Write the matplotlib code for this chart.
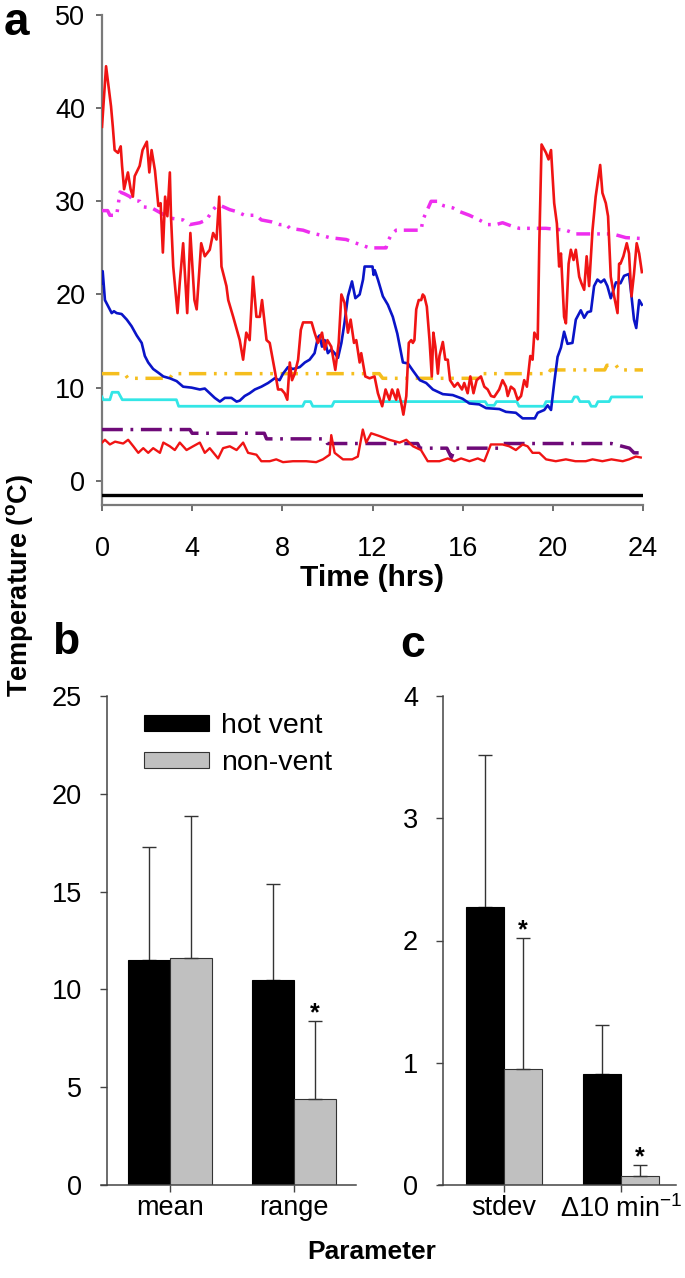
import matplotlib
matplotlib.use("Agg")
import matplotlib.pyplot as plt
from matplotlib.lines import Line2D
import numpy as np

plt.rcParams['font.family'] = ['Liberation Sans', 'DejaVu Sans']
plt.rcParams['mathtext.fontset'] = 'custom'
plt.rcParams['mathtext.rm'] = 'Liberation Sans'
plt.rcParams['mathtext.it'] = 'Liberation Sans:italic'
plt.rcParams['mathtext.bf'] = 'Liberation Sans:bold'

# ---------------- Panel a data (time in hrs, temperature in C) ----------------
red_hot_t = [0, 0.18, 0.4, 0.48, 0.56, 0.71, 0.83, 0.89, 0.98, 1.15, 1.27, 1.37, 1.45, 1.67, 1.8, 1.99,
             2.1, 2.2, 2.35, 2.5, 2.6, 2.7, 2.8, 2.9, 3.01, 3.06, 3.16, 3.35, 3.45, 3.6, 3.78, 3.92,
             4.1, 4.2, 4.4, 4.56, 4.78, 4.93, 5.08, 5.2, 5.3, 5.52, 5.6, 5.82, 6.11, 6.26, 6.4, 6.55,
             6.7, 6.85, 7.0, 7.1, 7.3, 7.44, 7.66, 7.81, 7.96, 8.1, 8.22, 8.33, 8.43, 8.55, 8.7, 8.82,
             8.92, 9.3, 9.43, 9.58, 9.76, 9.88, 10.0, 10.17, 10.35, 10.5, 10.62, 10.76, 10.91, 11.03,
             11.18, 11.28, 11.43, 11.5, 11.68, 11.87, 12.09, 12.24, 12.43, 12.58, 12.75, 12.87, 13.05,
             13.12, 13.27, 13.37, 13.5, 13.61, 13.72, 13.79, 13.86, 13.94, 14.05, 14.16, 14.23, 14.3,
             14.41, 14.53, 14.63, 14.7, 14.79, 14.9, 14.97, 15.12, 15.23, 15.34, 15.44, 15.63, 15.78,
             15.97, 16.07, 16.22, 16.34, 16.48, 16.62, 16.81, 16.96, 17.11, 17.26, 17.4, 17.62, 17.77,
             17.92, 18.0, 18.14, 18.29, 18.44, 18.59, 18.73, 18.85, 19.0, 19.1, 19.18, 19.33, 19.4,
             19.5, 19.7, 19.81, 19.92, 20.06, 20.18, 20.28, 20.36, 20.5, 20.58, 20.7, 20.8, 20.92,
             21.02, 21.17, 21.27, 21.39, 21.5, 21.61, 21.76, 21.9, 22.1, 22.2, 22.35, 22.45, 22.57,
             22.72, 22.87, 22.94, 23.0, 23.13, 23.28, 23.38, 23.49, 23.6, 23.72, 23.83, 23.95]
red_hot_v = [38.0, 44.5, 40.2, 38.0, 35.5, 35.2, 35.9, 33.8, 31.3, 33.1, 31.3, 30.5, 32.7, 33.8, 35.5, 36.4,
             33.1, 35.5, 33.3, 29.5, 29.8, 24.5, 30.5, 28.4, 33.1, 28.4, 23.0, 18.0, 21.3, 25.5, 18.0, 26.6,
             19.4, 18.4, 25.5, 24.1, 24.8, 26.6, 25.9, 30.5, 23.0, 20.9, 19.4, 17.6, 15.1, 13.0, 15.9, 15.1,
             21.9, 17.6, 17.6, 19.4, 15.1, 14.8, 11.9, 9.8, 9.8, 9.4, 8.7, 12.7, 10.8, 11.5, 13.0, 16.2,
             17.0, 17.0, 15.9, 14.8, 15.9, 14.1, 15.1, 14.4, 11.9, 14.8, 20.0, 19.1, 15.9, 17.3,
             14.8, 15.1, 12.7, 13.7, 11.2, 11.0, 11.2, 9.4, 8.0, 9.8, 8.7, 9.8, 8.7,
             9.8, 8.4, 7.1, 9.1, 14.8, 15.1, 14.8, 15.1, 18.4, 19.4, 19.4, 20.0, 19.8,
             18.7, 15.1, 11.2, 15.9, 14.4, 11.5, 13.4, 14.9, 13.0, 13.0, 10.8, 10.1, 10.5,
             9.8, 10.5, 9.4, 11.2, 9.4, 10.8, 11.2, 10.1, 9.8, 9.1, 9.0, 9.8, 10.8,
             10.1, 9.1, 10.1, 9.8, 8.7, 9.1, 10.8, 10.1, 13.4, 13.0, 15.9, 15.2, 25.5,
             36.1, 35.2, 34.5, 35.5, 29.8, 27.6, 23.0, 24.4, 17.6, 16.9, 23.3, 24.8, 23.7,
             24.8, 21.9, 21.2, 20.5, 24.1, 20.9, 26.9, 30.5, 33.9, 30.9, 29.8, 28.4, 21.9,
             19.8, 18.0, 23.3, 23.3, 24.1, 25.5, 24.4, 19.8, 22.2, 25.5, 24.4, 22.4]

blue_t = [0, 0.03, 0.13, 0.28, 0.43, 0.53, 0.65, 0.87, 1.1, 1.31, 1.54, 1.76, 1.9, 2.05, 2.27, 2.5, 2.72,
          3.01, 3.31, 3.6, 3.97, 4.34, 4.56, 4.78, 5.0, 5.23, 5.45, 5.74, 5.97, 6.11, 6.33, 6.55, 6.78,
          7.07, 7.37, 7.66, 7.88, 8.03, 8.25, 8.47, 8.77, 9.0, 9.21, 9.43, 9.58, 9.65, 9.76, 9.88, 10.02,
          10.17, 10.32, 10.47, 10.62, 10.76, 10.91, 11.09, 11.24, 11.43, 11.58, 11.65, 12.0, 12.05, 12.1,
          12.24, 12.46, 12.68, 12.9, 13.1, 13.35, 13.57, 13.8, 14.1, 14.38, 14.68, 15.12, 15.56, 16.0,
          16.3, 16.74, 17.04, 17.63, 17.92, 18.36, 18.66, 19.2, 19.33, 19.62, 19.77, 19.92, 20.06, 20.21,
          20.36, 20.5, 20.65, 20.87, 21.02, 21.24, 21.39, 21.54, 21.69, 21.83, 21.98, 22.13, 22.28,
          22.42, 22.57, 22.8, 23.0, 23.16, 23.38, 23.49, 23.6, 23.7, 23.83, 23.95]
blue_v = [21.2, 22.5, 19.4, 18.7, 18.0, 18.2, 18.0, 17.9, 17.3, 16.6, 15.6, 14.8, 13.4, 12.7, 12.0, 11.6, 11.2,
          11.0, 10.7, 10.1, 10.0, 9.8, 9.9, 9.4, 8.9, 8.5, 8.9, 8.9, 8.5, 8.6, 9.1, 9.4, 9.8,
          10.1, 10.5, 11.0, 10.8, 11.5, 12.2, 12.0, 12.2, 12.7, 13.0, 13.7, 15.4, 15.6, 14.4, 15.1, 13.7,
          14.1, 13.7, 13.2, 14.8, 17.0, 19.8, 21.4, 19.6, 20.0, 21.6, 23.0, 23.0, 22.1, 22.6,
          21.6, 19.8, 18.9, 17.6, 15.8, 12.7, 12.6, 11.8, 10.8, 10.5, 9.8, 9.3, 9.2, 8.8,
          8.3, 8.2, 7.8, 7.7, 7.4, 7.3, 6.7, 6.7, 7.3, 7.6, 8.1, 7.6, 10.5, 13.3,
          14.3, 16.0, 14.7, 14.8, 17.3, 18.3, 17.5, 18.1, 18.2, 20.9, 21.6, 21.3, 21.6,
          20.9, 19.6, 21.3, 21.2, 22.0, 22.2, 19.8, 17.3, 16.4, 19.4, 18.9]

magenta_t = [0, 0.25, 0.35, 0.65, 0.8, 1.0, 1.24, 1.39, 1.68, 1.83, 2.2, 2.57, 3.01, 3.6, 3.9, 4.34, 4.63,
             4.93, 5.08, 5.3, 5.67, 5.97, 6.33, 6.85, 7.07, 7.51, 7.88, 8.18, 8.33, 8.92, 9.28, 9.65, 10.1,
             10.83, 11.28, 11.87, 12.6, 12.68, 12.83, 13.05, 14.16, 14.23, 14.38, 14.6, 14.9, 14.97, 15.19,
             15.56, 15.86, 16.3, 16.74, 17.11, 17.48, 17.77, 18.22, 18.51, 19.69, 20.58, 21.02, 22.65,
             23.24, 24.0]
magenta_v = [29.0, 29.0, 28.5, 28.5, 31.0, 30.8, 30.5, 30.1, 30.0, 29.4, 29.3, 28.8, 28.2, 28.0, 27.5, 27.7, 28.0,
             29.1, 29.5, 29.5, 29.1, 28.9, 28.5, 28.5, 28.0, 27.8, 27.5, 27.5, 27.1, 26.9, 26.6, 26.4, 26.1,
             25.9, 25.5, 25.0, 25.0, 25.7, 26.4, 26.9, 26.9, 28.0, 28.8, 30.0, 30.0, 29.7, 29.5,
             29.3, 28.9, 28.5, 28.0, 27.5, 27.5, 27.7, 27.3, 27.1, 27.1, 26.9, 26.5, 26.5,
             26.1, 26.0]

yellow_t = [0, 1.0, 1.15, 3.0, 3.15, 12.3, 12.45, 16.75, 16.85, 19.8, 19.9, 22.3, 22.4, 22.8, 22.95, 24.0]
yellow_v = [11.5, 11.5, 11.0, 11.0, 11.5, 11.5, 11.0, 11.0, 11.5, 11.5, 11.9, 11.9, 12.4, 12.4, 11.9, 11.9]

cyan_t = [0, 0.06, 0.35, 0.45, 0.72, 0.9, 3.3, 3.4, 8.9, 9.0, 9.25, 9.35, 10.2, 10.3, 17.0, 17.1, 17.4,
          17.5, 18.4, 18.5, 19.6, 19.7, 20.85, 20.95, 21.1, 21.2, 21.6, 21.7, 21.9, 22.0, 22.5, 22.6, 24.0]
cyan_v = [9.0, 8.7, 8.7, 9.5, 9.5, 8.7, 8.7, 8.0, 8.0, 8.5, 8.5, 8.0, 8.0, 8.5, 8.5, 8.1, 8.1,
          8.5, 8.5, 8.0, 8.0, 8.5, 8.5, 9.0, 9.0, 8.5, 8.5, 8.0, 8.0, 8.5, 8.5, 9.0, 9.0]

purple_t = [0, 3.9, 4.0, 7.2, 7.3, 9.9, 10.0, 14.0, 14.1, 15.3, 15.5, 15.65, 17.6, 17.8, 22.6, 23.4, 23.6, 24.0]
purple_v = [5.5, 5.5, 5.1, 5.1, 4.5, 4.5, 4.0, 4.0, 3.5, 3.5, 2.5, 3.5, 3.5, 4.0, 4.0, 3.5, 3.0, 3.0]

red_low_t = [0, 0.13, 0.35, 0.58, 0.94, 1.16, 1.39, 1.61, 1.83, 2.05, 2.27, 2.57, 2.72, 3.01, 3.23, 3.45,
             3.75, 4.04, 4.34, 4.56, 4.78, 5.15, 5.37, 5.67, 5.97, 6.26, 6.48, 6.85, 7.07, 7.44, 7.73, 8.03,
             8.47, 9.06, 9.5, 9.8, 10.1, 10.17, 10.32, 10.69, 11.1, 11.35, 11.57, 11.72, 11.94, 12.31, 12.75,
             13.2, 13.5, 13.8, 14.15, 14.45, 14.97, 15.34, 15.63, 15.93, 16.3, 16.67, 16.96, 17.25, 17.77,
             18.07, 18.36, 18.66, 18.88, 19.1, 19.4, 19.7, 20.13, 20.58, 21.0, 21.46, 21.76, 22.2, 22.6,
             23.1, 23.38, 23.68, 23.9]
red_low_v = [4.1, 4.4, 3.9, 4.2, 4.0, 4.4, 3.7, 3.0, 3.5, 3.0, 3.5, 3.0, 4.1, 3.7, 3.3, 4.1,
             3.3, 3.7, 4.1, 3.0, 3.5, 2.4, 3.5, 3.7, 3.3, 4.1, 3.0, 2.8, 2.1, 2.1, 2.3, 2.0,
             2.1, 2.1, 2.0, 2.3, 2.8, 4.9, 3.0, 2.3, 2.3, 2.6, 5.5, 4.1, 5.1, 4.8, 4.4,
             4.1, 4.4, 3.7, 3.3, 2.1, 2.1, 2.4, 2.1, 2.4, 2.1, 2.4, 2.1, 3.9, 3.9,
             3.7, 3.3, 3.9, 3.7, 3.0, 3.0, 2.3, 2.1, 2.3, 2.1, 2.1, 2.3, 2.1, 2.3,
             2.1, 2.3, 2.6, 2.5]

black_t = [0, 24]
black_v = [-1.5, -1.5]

time_ticks = [0, 4, 8, 12, 16, 20, 24]
temp_ticks = [0, 10, 20, 30, 40, 50]

# ---------------- Panel b / c data ----------------
b_categories = ['mean', 'range']
b_hot = [11.5, 10.5]
b_hot_err = [5.8, 4.9]
b_non = [11.6, 4.4]
b_non_err = [7.25, 4.0]
b_sig = [False, True]
b_ticks = [0, 5, 10, 15, 20, 25]

c_categories = ['stdev', 'Δ10 min$^{-1}$']
c_hot = [2.27, 0.91]
c_hot_err = [1.25, 0.40]
c_non = [0.95, 0.07]
c_non_err = [1.07, 0.09]
c_sig = [True, True]
c_ticks = [0, 1, 2, 3, 4]

legend_labels = ['hot vent', 'non-vent']

FS = 19.5
W, H = 685, 1278
fig = plt.figure(figsize=(W / 100, H / 100), dpi=100)

def rect(x0, y_top, x1, y_bot):
    return [x0 / W, 1 - y_bot / H, (x1 - x0) / W, (y_bot - y_top) / H]

# ---------------- Panel a ----------------
axa = fig.add_axes(rect(102, 15, 643, 505))
axa.plot(magenta_t, magenta_v, color='#EE2EEE', lw=2.5, dashes=(4, 2.0, 0.8, 2.0, 0.8, 2.0), zorder=3)
axa.plot(yellow_t, yellow_v, color='#F5BE1E', lw=2.5, dashes=(5, 2.2, 0.8, 2.2, 0.8, 2.2), zorder=3)
axa.plot(purple_t, purple_v, color='#6E0A78', lw=2.5, dashes=(6, 2.2, 0.8, 2.2), zorder=3)
axa.plot(cyan_t, cyan_v, color='#33E6E6', lw=2.0, zorder=3)
axa.plot(blue_t, blue_v, color='#0A14C8', lw=1.9, zorder=4)
axa.plot(red_hot_t, red_hot_v, color='#F01414', lw=1.9, zorder=5)
axa.plot(red_low_t, red_low_v, color='#F01414', lw=1.7, zorder=5)
axa.plot(black_t, black_v, color='black', lw=2.4, zorder=5)
axa.set_xlim(0, 24)
axa.set_ylim(-2.6, 50)
axa.set_xticks(time_ticks)
axa.set_yticks(temp_ticks)
for s in ['top', 'right']:
    axa.spines[s].set_visible(False)
for s in ['left', 'bottom']:
    axa.spines[s].set_color('#7a7a7a')
    axa.spines[s].set_linewidth(1.6)
axa.tick_params(axis='y', direction='out', length=4, width=1.2, color='#555555', pad=8, labelsize=FS)
axa.tick_params(axis='x', direction='out', length=4, width=1.2, color='#555555', pad=18, labelsize=FS)

fig.text(372 / W, 1 - 578 / H, 'Time (hrs)', ha='center', va='center', fontsize=21.5, fontweight='bold')

# ---------------- Panel b / c ----------------
def bar_panel(x_line0, spine_x, x1, centers_px, width_px, cats, hot, hot_err, non, non_err, sig, yticks,
              ymax, legend=False):
    ax = fig.add_axes(rect(spine_x, 696, x1, 1185))
    unit = centers_px[1] - centers_px[0]
    ax.set_xlim((spine_x - centers_px[0]) / unit, (x1 - centers_px[0]) / unit)
    ax.set_ylim(0, ymax)
    w = width_px / unit
    xs = np.arange(len(cats))
    bh = ax.bar(xs, hot, width=-w, align='edge', color='black', edgecolor='black', lw=0.8, zorder=2,
                label=legend_labels[0])
    bn = ax.bar(xs, non, width=w, align='edge', color='#C0C0C0', edgecolor='#333333', lw=0.8, zorder=2,
                label=legend_labels[1])
    ax.errorbar(xs - w / 2, hot, yerr=[np.zeros(len(hot)), hot_err], fmt='none', ecolor='#333333',
                elinewidth=1.0, capsize=5, capthick=1.0, zorder=1)
    ax.errorbar(xs + w / 2, non, yerr=[np.zeros(len(non)), non_err], fmt='none', ecolor='#333333',
                elinewidth=1.0, capsize=5, capthick=1.0, zorder=3)
    for i, s in enumerate(sig):
        if s:
            ax.annotate('*', xy=(xs[i] + w / 2, non[i] + non_err[i]), xytext=(0, -3),
                        textcoords='offset points', ha='center', va='bottom', fontsize=18, fontweight='bold')
    ax.set_xticks(xs)
    ax.set_xticklabels(cats)
    ax.set_yticks(yticks)
    for s in ['top', 'right']:
        ax.spines[s].set_visible(False)
    for s in ['left', 'bottom']:
        ax.spines[s].set_color('#444444')
        ax.spines[s].set_linewidth(1.1)
    # baseline continues a few pixels left of the y axis, as in the original
    ext = Line2D([(x_line0 - spine_x) / (x1 - spine_x), 0], [0, 0], transform=ax.transAxes,
                 color='#444444', lw=1.1, clip_on=False)
    ax.add_line(ext)
    ax.tick_params(axis='y', direction='out', length=5, width=1.0, color='#444444', pad=13, labelsize=FS)
    ax.tick_params(axis='x', direction='out', length=5, width=1.0, color='#444444', pad=2, labelsize=FS)
    if legend:
        ax.legend(handles=[bh, bn], labels=legend_labels, loc='upper left',
                  bbox_to_anchor=((144 - spine_x) / (x1 - spine_x), (1185 - 713) / 489), frameon=False,
                  fontsize=20.5, handlelength=2.3, handleheight=0.5, handletextpad=0.4,
                  labelspacing=0.4, borderpad=0, borderaxespad=0)
    return ax

axb = bar_panel(101, 107, 356, [170, 294], 42, b_categories, b_hot, b_hot_err, b_non, b_non_err,
                b_sig, b_ticks, 25, legend=True)
axc = bar_panel(439, 443, 676, [504, 621], 38, c_categories, c_hot, c_hot_err, c_non, c_non_err,
                c_sig, c_ticks, 4)

fig.text(372 / W, 1 - 1252 / H, 'Parameter', ha='center', va='center', fontsize=19, fontweight='bold')
fig.text(20 / W, 1 - 586 / H, 'Temperature ($\\mathbf{^{o}}$C)', rotation=90, ha='center', va='center',
         fontsize=19.5, fontweight='bold')

fig.text(4 / W, 1 - 1 / H, 'a', ha='left', va='top', fontsize=33, fontweight='bold')
fig.text(52 / W, 1 - 654 / H, 'b', ha='left', va='baseline', fontsize=32, fontweight='bold')
fig.text(400 / W, 1 - 657 / H, 'c', ha='left', va='baseline', fontsize=32, fontweight='bold')

fig.savefig('out.png', dpi=100)
